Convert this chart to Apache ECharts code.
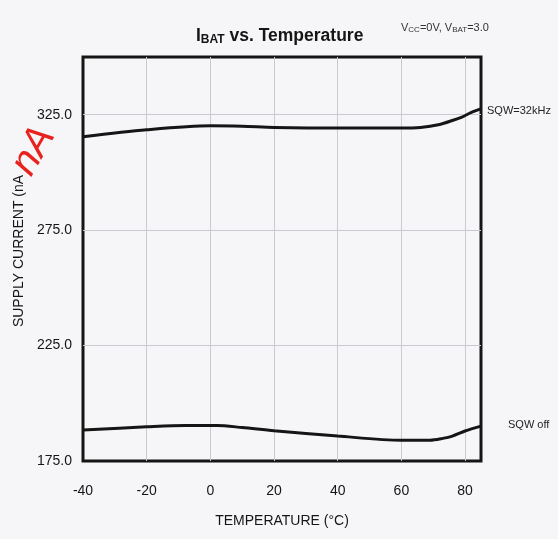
<!DOCTYPE html>
<html>
<head>
<meta charset="utf-8">
<script src="https://cdn.jsdelivr.net/npm/echarts@6/dist/echarts.min.js"></script>
<style>
  html, body { margin: 0; padding: 0; background: #f6f6f8; }
  #chart { width: 558px; height: 539px; }
</style>
</head>
<body>
<div id="chart"></div>
<script>
// temperature (°C) / supply current (nA)
const tempsHigh = [-40, -20, 0, 10, 20, 40, 60, 66, 72, 76, 79, 82, 85];
const sqw32k = [315.5, 318.5, 320.2, 320.0, 319.5, 319.2, 319.2, 319.5, 320.8, 322.5, 324.0, 326.0, 327.5];
const tempsLow = [-40, -20, -8, 2, 10, 20, 40, 60, 69, 73, 76, 80, 85];
const sqwOff = [188.4, 189.8, 190.4, 190.4, 189.5, 188.1, 185.8, 184.0, 184.0, 184.8, 185.8, 188.0, 190.1];
const xTicks = [-40, -20, 0, 20, 40, 60, 80];
const yTicks = [175, 225, 275, 325];
const seriesNames = ["SQW=32kHz", "SQW off"];

const chart = echarts.init(document.getElementById("chart"));
const font = "Liberation Sans, Arial, sans-serif";
const ink = "#151515";
const grid = "#cacad2";

const pairs = (xs, ys) => xs.map((x, i) => [x, ys[i]]);

chart.setOption({
  backgroundColor: "#f6f6f8",
  animation: false,
  textStyle: { fontFamily: font },
  title: {
    text: "{b|I}{s|BAT}{b| vs. Temperature}",
    left: 191,
    top: 22,
    textStyle: {
      rich: {
        b: { fontSize: 17.5, fontWeight: "bold", color: ink, fontFamily: font },
        s: { fontSize: 12, fontWeight: "bold", color: ink, fontFamily: font, verticalAlign: "bottom", padding: [7, 0, 0, 0] },
      },
    },
  },
  graphic: [
    {
      type: "text",
      left: 401,
      top: 22,
      style: {
        text: "{n|V}{s|CC}{n|=0V, V}{s|BAT}{n|=3.0}",
        rich: {
          n: { fontSize: 11, fill: "#333", fontFamily: font },
          s: { fontSize: 8, fill: "#333", fontFamily: font, padding: [4, 0, 0, 0] },
        },
      },
    },
    {
      // handwritten note on the scan
      type: "text",
      x: 4, y: 162,
      rotation: 1.05,
      style: { text: "nA", fontSize: 40, fontStyle: "italic", fill: "#e8231e", fontFamily: font },
    },
  ],
  grid: {
    left: 83, right: 77, top: 57, bottom: 78,
    show: true,
    borderColor: ink,
    borderWidth: 3,
    backgroundColor: "transparent",
  },
  xAxis: {
    type: "value",
    min: -40,
    max: 85,
    interval: 20,
    name: "TEMPERATURE (°C)",
    nameLocation: "middle",
    nameGap: 53,
    nameTextStyle: { fontSize: 14, color: ink, fontFamily: font },
    axisLine: { show: false },
    axisTick: { show: false },
    axisLabel: {
      showMaxLabel: false,
      fontSize: 14,
      color: ink,
      margin: 23,
      formatter: (v) => (xTicks.includes(v) ? String(v) : ""),
    },
    splitLine: { show: true, showMinLine: false, showMaxLine: false, lineStyle: { color: grid, width: 1 } },
  },
  yAxis: {
    type: "value",
    min: 175,
    max: 350,
    interval: 50,
    name: "SUPPLY CURRENT (nA",
    nameLocation: "middle",
    nameGap: 53,
    nameTextStyle: { fontSize: 14, color: ink, fontFamily: font, padding: [0, 0, 0, 16] },
    axisLine: { show: false },
    axisTick: { show: false },
    axisLabel: {
      fontSize: 14,
      color: ink,
      margin: 11,
      formatter: (v) => (yTicks.includes(v) ? v.toFixed(1) : ""),
    },
    splitLine: { show: true, showMinLine: false, showMaxLine: false, lineStyle: { color: grid, width: 1 } },
  },
  series: [
    {
      name: seriesNames[0],
      type: "line",
      data: pairs(tempsHigh, sqw32k),
      smooth: 0.3,
      showSymbol: false,
      lineStyle: { color: ink, width: 3 },
      endLabel: {
        show: true,
        formatter: "{a}",
        color: "#222",
        fontSize: 11,
        distance: 6,
        offset: [0, 2],
      },
    },
    {
      name: seriesNames[1],
      type: "line",
      data: pairs(tempsLow, sqwOff),
      smooth: 0.3,
      showSymbol: false,
      lineStyle: { color: ink, width: 3 },
      endLabel: {
        show: true,
        formatter: "{a}",
        color: "#222",
        fontSize: 11,
        distance: 27,
        offset: [0, -1],
      },
    },
  ],
});
</script>
</body>
</html>
